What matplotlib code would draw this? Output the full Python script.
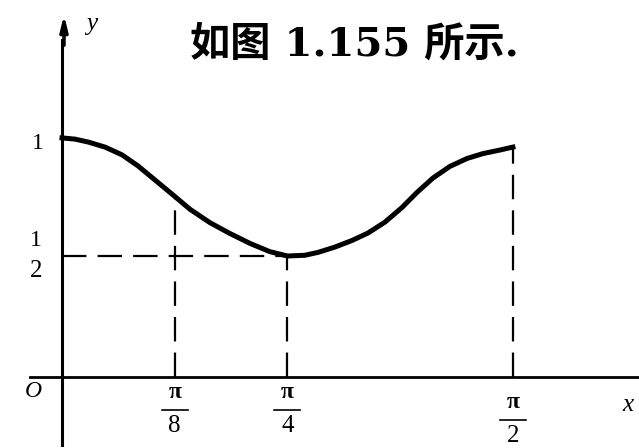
import numpy as np
import matplotlib.pyplot as plt

# 曲线上读取的点 (x 为弧度)
curve_x = [0, 0.045, 0.091, 0.150, 0.209, 0.265, 0.324, 0.387, 0.446, 0.515,
           0.585, 0.655, 0.724, np.pi / 4, 0.846, 0.892, 0.951, 1.010, 1.066,
           1.125, 1.184, 1.236, 1.292, 1.351, 1.411, 1.466, 1.526, np.pi / 2]
curve_y = [0.988, 0.983, 0.971, 0.950, 0.918, 0.872, 0.814, 0.752, 0.693, 0.638,
           0.593, 0.552, 0.518, 0.500, 0.503, 0.515, 0.537, 0.564, 0.595,
           0.640, 0.700, 0.762, 0.822, 0.870, 0.903, 0.923, 0.938, 0.950]

x_ticks = [np.pi / 8, np.pi / 4, np.pi / 2]
x_dens = ['8', '4', '2']
title = '如图 1.155 所示.'

serif = ['Liberation Serif', 'DejaVu Serif']

fig = plt.figure(figsize=(6.39, 4.48), dpi=100)
ax = fig.add_axes([0, 0, 1, 1])
ax.set_xlim(-0.216, 2.010)
ax.set_ylim(-71 / 242, 377 / 242)
ax.axis('off')


# 像素坐标 -> 数据坐标 (仅用于文字位置)
def P(px, py):
    return (px - 62) / 287.1, (377 - py) / 242


# 坐标轴
ax.plot([P(30, 0)[0], P(639, 0)[0]], [0, 0], color='black', lw=2.0)
ax.plot([0, 0], [P(0, 445)[1], P(0, 40)[1]], color='black', lw=2.2)
ax.annotate('', xy=P(64, 12), xytext=P(64, 48),
            arrowprops=dict(arrowstyle='-|>,head_width=0.22,head_length=0.9',
                            color='black', lw=2.5))

# 曲线
ax.plot(curve_x, curve_y, color='black', lw=3.6, solid_joinstyle='round')

# 虚线
half = np.interp(np.pi / 4, curve_x, curve_y)
ax.plot([0, np.pi / 4], [half, half], color='black', lw=1.6, dashes=(11, 5))
for xt in x_ticks:
    yt = np.interp(xt, curve_x, curve_y)
    ax.plot([xt, xt], [0, yt], color='black', lw=1.6, dashes=(11, 5))

# 刻度文字
for xt, d, dy in zip(x_ticks, x_dens, [0, 0, 10]):
    px = 62 + xt * 287.1
    ax.text(*P(px, 392 + dy), 'π', family=serif, fontsize=17, weight='bold',
            ha='center', va='center')
    ax.plot([P(px - 13, 0)[0], P(px + 13, 0)[0]], [P(0, 410 + dy)[1]] * 2,
            color='black', lw=1.2)
    ax.text(*P(px, 426 + dy), d, family=serif, fontsize=18,
            ha='center', va='center')

ax.text(*P(38, 143), '1', family=serif, fontsize=17, ha='center', va='center')
ax.text(*P(36, 240), '1', family=serif, fontsize=17, ha='center', va='center')
ax.text(*P(36, 271), '2', family=serif, fontsize=18, ha='center', va='center')
ax.text(*P(33, 391), 'O', family=serif, fontsize=17, style='italic',
        ha='center', va='center')
ax.text(*P(628, 405), 'x', family=serif, fontsize=18, style='italic',
        ha='center', va='center')
ax.text(*P(92, 24), 'y', family=serif, fontsize=18, style='italic',
        ha='center', va='center')

ax.text(*P(354, 44), title, family=['DejaVu Serif', 'Noto Sans CJK SC'],
        fontsize=29, weight='bold', ha='center', va='center')

fig.savefig('out.png', dpi=100)
